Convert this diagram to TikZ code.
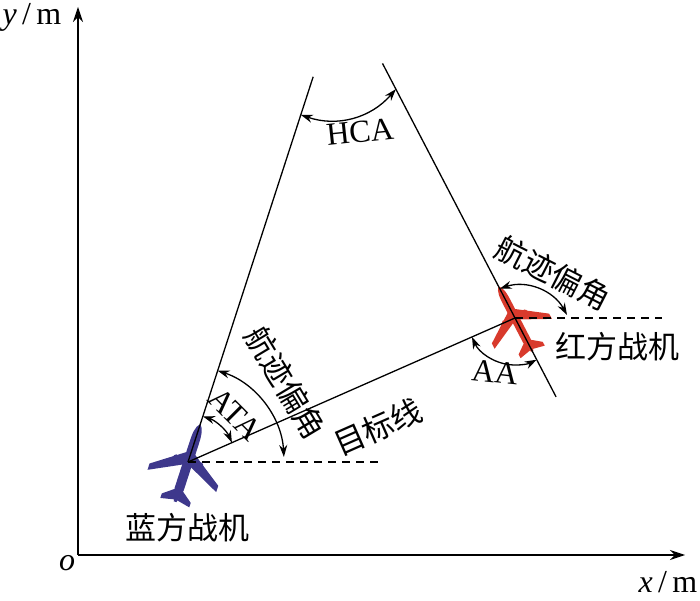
\documentclass[tikz,border=0pt]{standalone}
\usepackage{fontspec}
\setmainfont{Liberation Serif}
\newfontfamily\cjk{Noto Sans CJK SC}
\usetikzlibrary{arrows.meta}
\definecolor{bluejet}{RGB}{62,56,140}
\definecolor{redjet}{RGB}{216,58,44}
\tikzstyle{combat}=[
    x=1pt,y=1pt,
    axis/.style={black,line width=1.3pt,-{Stealth[length=15pt,width=10pt]}},
    track/.style={black,line width=1.3pt},
    ref line/.style={black,line width=1.1pt,dash pattern=on 8pt off 6pt},
    angle mark/.style={black,line width=1.3pt,{Stealth[length=12pt,width=8pt]}-{Stealth[length=12pt,width=8pt]}},
    cn label/.style={font={\cjk\fontsize{31}{34}\selectfont},inner sep=0pt},
    en label/.style={font={\fontsize{32}{34}\selectfont},inner sep=0pt},
]
\newcommand{\jet}[2][]{
    \begin{scope}[#1]
    \fill[#2] (0,42) .. controls (4.5,38) and (5,30) .. (5,20)
        -- (5,-30) -- (1.5,-44) -- (-1.5,-44) -- (-5,-30) -- (-5,20)
        .. controls (-5,30) and (-4.5,38) .. (0,42) -- cycle;
    \foreach \s in {1,-1}{
        \fill[#2,xscale=\s] (4,10) -- (38,-14) -- (38,-21) -- (4,-4) -- cycle;
        \fill[#2,xscale=\s] (3,-30) -- (16,-40) -- (16,-45) -- (2,-42) -- cycle;
        \fill[#2,xscale=\s] (14,-2) ellipse [x radius=3pt,y radius=6pt];
    }
    \end{scope}
}

\begin{document}
\begin{tikzpicture}[combat]
    \useasboundingbox (0,0) rectangle (700,601);

    \coordinate (O) at (78,46);
    \coordinate (ytip) at (78,594);
    \coordinate (xtip) at (685,46);
    \coordinate (B) at (188,139);
    \coordinate (R) at (515,283);
    \coordinate (Bdash) at (382,139);
    \coordinate (Rdash) at (662,283);
    \path (B) ++(72:405) coordinate (Bhead);
    \path (R) ++(117.5:287) coordinate (Rhead);
    \path (R) ++(297.5:89) coordinate (Rtail);

    \jet[shift={(B)},rotate=-18,scale=0.95]{bluejet}
    \jet[shift={(R)},rotate=27.5,scale=0.85]{redjet}

    \draw[axis] (O) -- (ytip);
    \draw[axis] (O) -- (xtip);
    \draw[track] (B) -- (Bhead);
    \draw[track] (Rtail) -- (Rhead);
    \draw[track] (B) -- (R);
    \draw[ref line] (B) -- (Bdash);
    \draw[ref line] (R) -- (Rdash);

    \path (B) ++(72:365) coordinate (hca start);
    \path (R) ++(117.5:258) coordinate (hca end);
    \draw[angle mark] (hca start) to[bend right=34] (hca end);

    \path (B) ++(72:48) coordinate (ata start);
    \draw[angle mark] (ata start) arc[start angle=72,end angle=23.8,radius=48pt];
    \path (B) ++(72:96) coordinate (bhdg start);
    \draw[angle mark] (bhdg start) arc[start angle=72,end angle=3,radius=96pt];

    \path (R) ++(203.8:47) coordinate (aa start);
    \draw[angle mark] (aa start) arc[start angle=203.8,end angle=297.5,radius=47pt];
    \path (R) ++(117.5:33) coordinate (rhdg start);
    \path (R) ++(52,3) coordinate (rhdg end);
    \draw[angle mark] (rhdg start) to[bend left=40] (rhdg end);

    \node[en label] (ylab) at (32,584) {\textit{y}\,/\,m};
    \node[en label] (xlab) at (668,19) {\textit{x}\,/\,m};
    \node[en label] (olab) at (67,38) {\textit{o}};
    \node[en label,rotate=6] (hca) at (360,469) {HCA};
    \node[en label,rotate=-45] (ata) at (235,187) {ATA};
    \node[en label,rotate=-6] (aa) at (495,229) {AA};
    \node[cn label,rotate=-59] (bhdg) at (286,218) {航迹偏角};
    \node[cn label,rotate=-27] (rhdg) at (553,328) {航迹偏角};
    \node[cn label,rotate=23.8] (target) at (378,174) {目标线};
    \node[cn label] (blue) at (187,73) {蓝方战机};
    \node[cn label] (red) at (617,254) {红方战机};
\end{tikzpicture}
\end{document}
